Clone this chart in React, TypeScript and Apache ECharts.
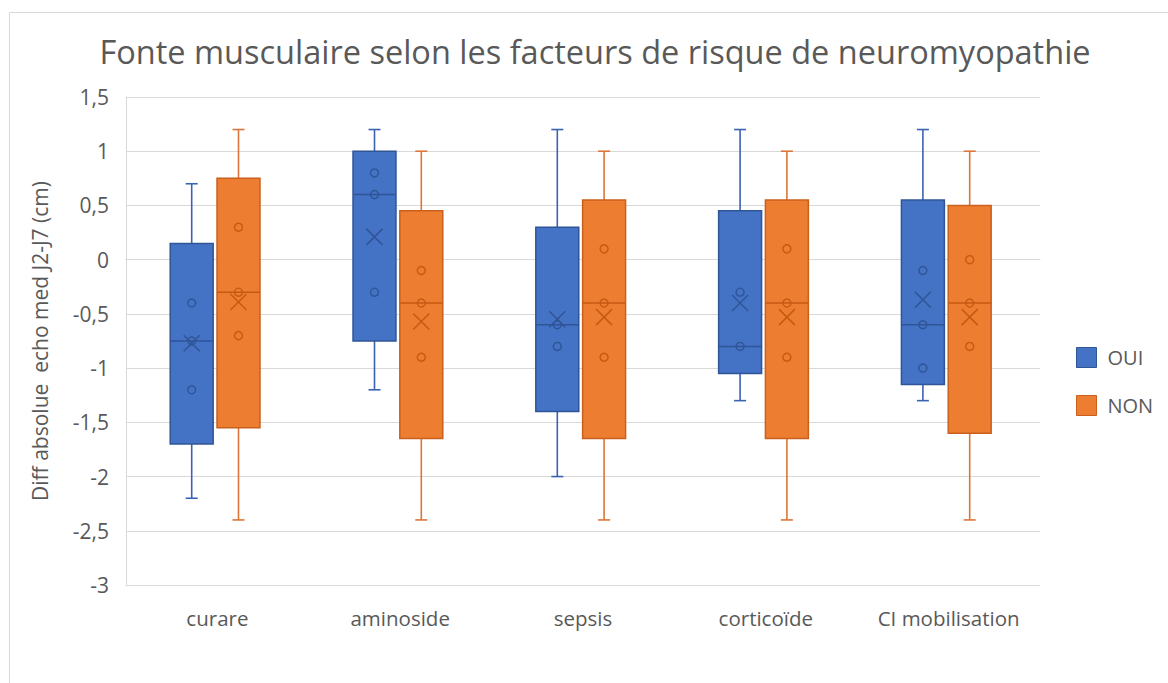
import React, { useEffect, useRef } from "react";
import * as echarts from "echarts";

const categories = ["curare", "aminoside", "sepsis", "corticoïde", "CI mobilisation"];
const yTicks = { min: -3, max: 1.5, interval: 0.5 };

const ouiMin = [-2.2, -1.2, -2.0, -1.3, -1.3];
const ouiQ1 = [-1.7, -0.75, -1.4, -1.05, -1.15];
const ouiMedian = [-0.75, 0.6, -0.6, -0.8, -0.6];
const ouiQ3 = [0.15, 1.0, 0.3, 0.45, 0.55];
const ouiMax = [0.7, 1.2, 1.2, 1.2, 1.2];
const ouiMean = [-0.77, 0.21, -0.55, -0.4, -0.37];
const ouiPoints = [[-0.4, -0.75, -1.2], [0.8, 0.6, -0.3], [-0.6, -0.8], [-0.3, -0.8], [-0.1, -0.6, -1.0]];

const nonMin = [-2.4, -2.4, -2.4, -2.4, -2.4];
const nonQ1 = [-1.55, -1.65, -1.65, -1.65, -1.6];
const nonMedian = [-0.3, -0.4, -0.4, -0.4, -0.4];
const nonQ3 = [0.75, 0.45, 0.55, 0.55, 0.5];
const nonMax = [1.2, 1.0, 1.0, 1.0, 1.0];
const nonMean = [-0.39, -0.57, -0.53, -0.53, -0.53];
const nonPoints = [[0.3, -0.3, -0.7], [-0.1, -0.4, -0.9], [0.1, -0.4, -0.9], [0.1, -0.4, -0.9], [0, -0.4, -0.8]];

const FONT = "'Open Sans', 'Noto Sans', sans-serif";
const TEXT = "#595959";
const GRID = "#D9D9D9";

const BLUE = { fill: "#4472C4", border: "#2F5597", whisker: "#3A63B2", mark: "#2F5597" };
const ORANGE = { fill: "#ED7D31", border: "#C9601E", whisker: "#DC7638", mark: "#C55A11" };

const BOX_FRAC = 0.235;
const OUI_OFFSET = -0.1406;
const NON_OFFSET = 0.1154;

function boxData(mins: number[], q1: number[], med: number[], q3: number[], max: number[], mean: number[]) {
  return categories.map((_, i) => [i, mins[i], q1[i], med[i], q3[i], max[i], mean[i]]);
}

function pointData(points: number[][]) {
  const out: number[][] = [];
  points.forEach((list, i) => list.forEach((v) => out.push([i, v])));
  return out;
}

function makeBoxRender(offsetFrac: number, col: typeof BLUE) {
  return (_params: any, api: any) => {
    const cat = api.value(0);
    const band = api.size([1, 0])[0];
    const c = api.coord([cat, 0])[0] + offsetFrac * band;
    const yv = (i: number) => api.coord([cat, api.value(i)])[1];
    const yMin = yv(1), yQ1 = yv(2), yMed = yv(3), yQ3 = yv(4), yMax = yv(5), yMean = yv(6);
    const hw = (BOX_FRAC * band) / 2;
    const cap = 6;
    const xs = 8;
    const wl = { stroke: col.whisker, lineWidth: 1.6 };
    const ml = { stroke: col.mark, lineWidth: 1.5 };
    return {
      type: "group",
      children: [
        { type: "line", shape: { x1: c, y1: yMax, x2: c, y2: yQ3 }, style: wl },
        { type: "line", shape: { x1: c, y1: yQ1, x2: c, y2: yMin }, style: wl },
        { type: "line", shape: { x1: c - cap, y1: yMax, x2: c + cap, y2: yMax }, style: wl },
        { type: "line", shape: { x1: c - cap, y1: yMin, x2: c + cap, y2: yMin }, style: wl },
        {
          type: "rect",
          shape: { x: c - hw, y: yQ3, width: hw * 2, height: yQ1 - yQ3 },
          style: { fill: col.fill, stroke: col.border, lineWidth: 1.5 },
        },
        { type: "line", shape: { x1: c - hw, y1: yMed, x2: c + hw, y2: yMed }, style: ml },
        { type: "line", shape: { x1: c - xs, y1: yMean - xs, x2: c + xs, y2: yMean + xs }, style: ml },
        { type: "line", shape: { x1: c - xs, y1: yMean + xs, x2: c + xs, y2: yMean - xs }, style: ml },
      ],
    };
  };
}

function makePointRender(offsetFrac: number, col: typeof BLUE) {
  return (_params: any, api: any) => {
    const cat = api.value(0);
    const band = api.size([1, 0])[0];
    const p = api.coord([cat, api.value(1)]);
    return {
      type: "circle",
      shape: { cx: p[0] + offsetFrac * band, cy: p[1], r: 4 },
      style: { fill: "none", stroke: col.mark, lineWidth: 1.4 },
    };
  };
}

export default function App() {
  const ref = useRef<HTMLDivElement>(null);
  useEffect(() => {
    if (!ref.current) return;
    const chart = echarts.init(ref.current, undefined, { renderer: "svg" });
    chart.setOption({
      animation: false,
      backgroundColor: "#FFFFFF",
      graphic: [
        {
          type: "rect",
          shape: { x: 9.5, y: 12.5, width: 1200, height: 700 },
          style: { fill: "none", stroke: GRID, lineWidth: 1 },
          silent: true,
        },
        {
          type: "text",
          x: 595,
          y: 51,
          style: {
            text: "Fonte musculaire selon les facteurs de risque de neuromyopathie",
            font: `32.5px ${FONT}`,
            fill: TEXT,
            textAlign: "center",
            textVerticalAlign: "middle",
          },
        },
      ],
      grid: { left: 126, right: 128, top: 97, bottom: 98, containLabel: false },
      legend: {
        orient: "vertical",
        left: 1076,
        top: 347,
        padding: 0,
        itemWidth: 20,
        itemHeight: 20,
        itemGap: 27,
        textStyle: { color: TEXT, fontSize: 20, fontFamily: FONT, padding: [0, 0, 0, 6] },
        data: [
          { name: "OUI", icon: "rect", itemStyle: { color: BLUE.fill, borderColor: BLUE.border, borderWidth: 1 } },
          { name: "NON", icon: "rect", itemStyle: { color: ORANGE.fill, borderColor: ORANGE.border, borderWidth: 1 } },
        ],
      },
      xAxis: {
        type: "category",
        data: categories,
        axisLine: { show: true, lineStyle: { color: GRID, width: 1 } },
        axisTick: { show: false },
        axisLabel: { color: TEXT, fontSize: 20.5, fontFamily: FONT, margin: 22, interval: 0, hideOverlap: false },
        splitLine: { show: false },
      },
      yAxis: {
        type: "value",
        min: yTicks.min,
        max: yTicks.max,
        interval: yTicks.interval,
        name: "Diff absolue  echo med J2-J7 (cm)",
        nameLocation: "middle",
        nameRotate: 90,
        nameGap: 76,
        nameTextStyle: { color: TEXT, fontSize: 21, fontFamily: FONT },
        axisLine: { show: true, lineStyle: { color: GRID, width: 1 } },
        axisTick: { show: false },
        axisLabel: {
          color: TEXT,
          fontSize: 21,
          fontFamily: FONT,
          margin: 17,
          formatter: (v: number) => String(v).replace(".", ","),
        },
        splitLine: { show: true, lineStyle: { color: GRID, width: 1 } },
      },
      series: [
        {
          name: "OUI",
          type: "custom",
          itemStyle: { color: BLUE.fill },
          renderItem: makeBoxRender(OUI_OFFSET, BLUE),
          encode: { x: 0, y: [1, 2, 3, 4, 5] },
          data: boxData(ouiMin, ouiQ1, ouiMedian, ouiQ3, ouiMax, ouiMean),
          z: 2,
        },
        {
          name: "NON",
          type: "custom",
          itemStyle: { color: ORANGE.fill },
          renderItem: makeBoxRender(NON_OFFSET, ORANGE),
          encode: { x: 0, y: [1, 2, 3, 4, 5] },
          data: boxData(nonMin, nonQ1, nonMedian, nonQ3, nonMax, nonMean),
          z: 2,
        },
        {
          name: "OUI points",
          type: "custom",
          renderItem: makePointRender(OUI_OFFSET, BLUE),
          encode: { x: 0, y: 1 },
          data: pointData(ouiPoints),
          z: 3,
        },
        {
          name: "NON points",
          type: "custom",
          renderItem: makePointRender(NON_OFFSET, ORANGE),
          encode: { x: 0, y: 1 },
          data: pointData(nonPoints),
          z: 3,
        },
      ],
    });
    return () => chart.dispose();
  }, []);
  return (
    <div
      ref={ref}
      style={{ position: "fixed", left: 0, top: 0, width: 1168, height: 683, background: "#fff" }}
    />
  );
}
